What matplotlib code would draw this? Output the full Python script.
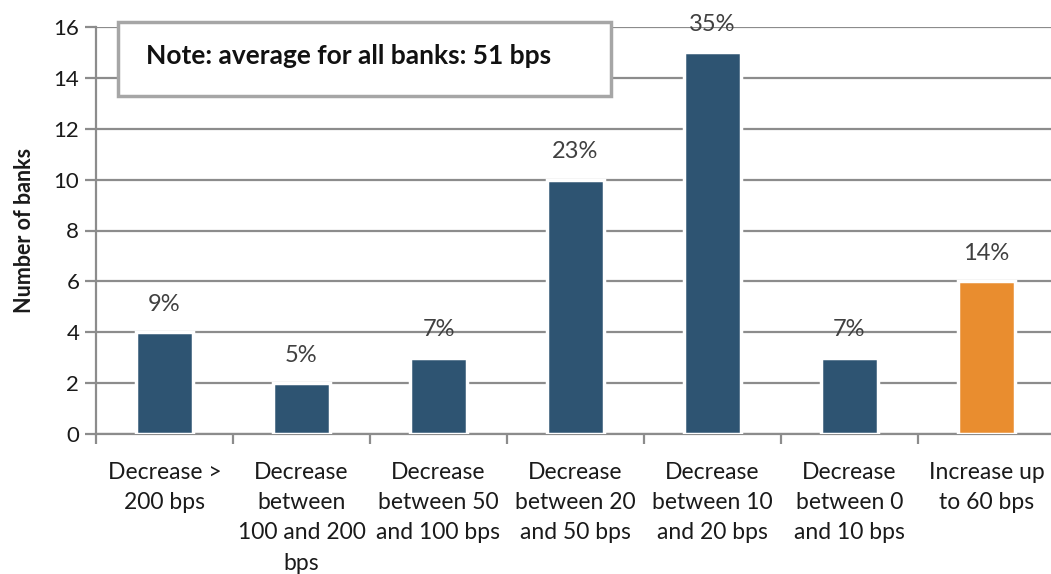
import matplotlib.pyplot as plt
import numpy as np
from matplotlib.patches import Rectangle

plt.rcParams['font.family'] = ['Lato', 'DejaVu Sans']

categories = ['Decrease >\n200 bps', 'Decrease\nbetween\n100 and 200\nbps',
              'Decrease\nbetween 50\nand 100 bps', 'Decrease\nbetween 20\nand 50 bps',
              'Decrease\nbetween 10\nand 20 bps', 'Decrease\nbetween 0\nand 10 bps',
              'Increase up\nto 60 bps']
banks = [4, 2, 3, 10, 15, 3, 6]
shares = ['9%', '5%', '7%', '23%', '35%', '7%', '14%']
colors = ['#2e5472'] * 6 + ['#e98d2f']

fig = plt.figure(figsize=(10.51, 5.74), dpi=100)
ax = fig.add_axes([96 / 1051, 140 / 574, 959 / 1051, 407 / 574])

x = np.arange(len(categories))
ax.bar(x, banks, width=0.42, color=colors, edgecolor='white', linewidth=2.5, zorder=3)

for xi, v, s in zip(x, banks, shares):
    ax.text(xi, v + 0.68, s, ha='center', va='bottom', fontsize=17, color='#404040')

ax.set_xlim(-0.5, 6.5)
ax.set_ylim(0, 16)
ax.set_yticks(range(0, 17, 2))
ax.yaxis.grid(True, color='#8c8c8c', linewidth=1.6, zorder=0)
ax.set_axisbelow(True)

ax.set_xticks(np.arange(-0.5, 7, 1), minor=True)
ax.set_xticks(x)
ax.set_xticklabels(categories, fontsize=16.5, color='#1a1a1a', linespacing=1.55)
ax.tick_params(axis='x', which='major', length=0, pad=20)
ax.tick_params(axis='x', which='minor', length=7, width=1.6, color='#8c8c8c')
ax.tick_params(axis='y', length=8, width=1.6, color='#8c8c8c', labelsize=16, labelcolor='#1a1a1a', pad=4)

for side in ['top', 'right']:
    ax.spines[side].set_visible(False)
for side in ['left', 'bottom']:
    ax.spines[side].set_color('#8c8c8c')
    ax.spines[side].set_linewidth(1.6)

ax.set_ylabel('Number of banks', fontsize=15.5, fontweight='bold', color='#1a1a1a', labelpad=13)

# note box
box = Rectangle((118 / 1051, 1 - 96 / 574), (611 - 118) / 1051, (96 - 22) / 574,
                transform=fig.transFigure, facecolor='white', edgecolor='#a6a6a6',
                linewidth=2.5, zorder=5)
fig.patches.append(box)
fig.text(146 / 1051, 1 - 56 / 574, 'Note: average for all banks: 51 bps',
         fontsize=19, fontweight='bold', color='#111111', va='center', zorder=6)

fig.savefig('out.png', dpi=100)
